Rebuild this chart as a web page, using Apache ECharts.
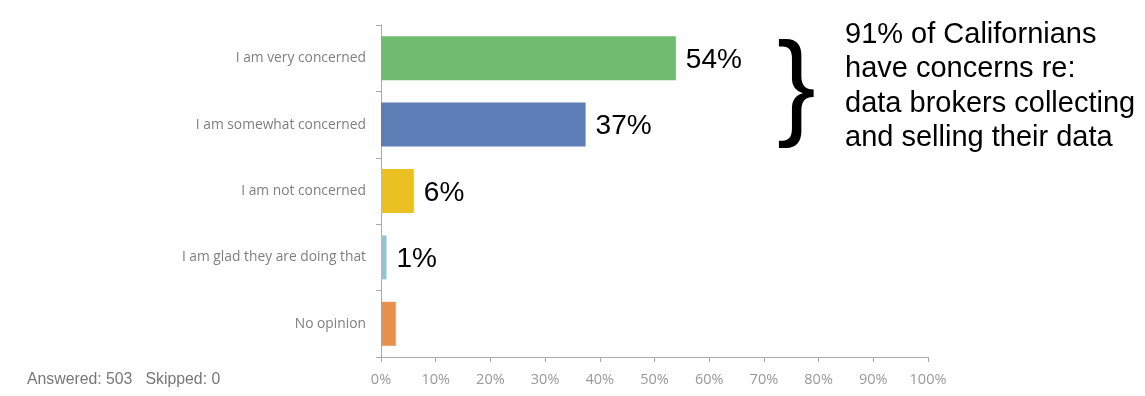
<!DOCTYPE html>
<html><head><meta charset="utf-8">
<script src="https://cdn.jsdelivr.net/npm/echarts@6/dist/echarts.min.js"></script>
<style>html,body{margin:0;padding:0;background:#fff}#c{width:1145px;height:396px}</style>
</head><body><div id="c"></div>
<script>
const categories = ["I am very concerned","I am somewhat concerned","I am not concerned","I am glad they are doing that","No opinion"];
const values = [53.9, 37.4, 6.0, 1.0, 2.7];
const valueLabels = ["54%","37%","6%","1%",""];
const barColors = ["#6fbb6f","#5d7db6","#ebc022","#92c5d0","#e8904d"];
const tickValues = [0,10,20,30,40,50,60,70,80,90,100];
const noteLines = ["91% of Californians","have concerns re:","data brokers collecting","and selling their data"];
const footer = "Answered: 503   Skipped: 0";

const chart = echarts.init(document.getElementById('c'), null, {renderer:'canvas'});
chart.setOption({
  animation:false,
  grid:{left:381, right:217, top:25, bottom:39, containLabel:false},
  xAxis:{type:'value', min:0, max:100, interval:10,
    axisLine:{show:true, lineStyle:{color:'#aaaaaa'}},
    axisTick:{show:true, length:5, lineStyle:{color:'#aaaaaa'}},
    splitLine:{show:false},
    axisLabel:{color:'#999999', fontSize:14.5, fontFamily:'Open Sans', margin:15, formatter:v=>v+'%'}},
  yAxis:{type:'category', inverse:true, data:categories,
    axisLine:{show:true, lineStyle:{color:'#aaaaaa'}},
    axisTick:{show:true, length:5, lineStyle:{color:'#aaaaaa'}},
    axisLabel:{color:'#7f7f7f', fontSize:13.8, fontFamily:'Open Sans', margin:15, lineHeight:22, verticalAlign:'middle', padding:[4,0,0,0]}},
  series:[{type:'bar', barWidth:44,
    data: values.map((v,i)=>({value:v, itemStyle:{color:barColors[i]},
      label:{show: valueLabels[i]!=='', formatter: valueLabels[i]}})),
    label:{position:'right', distance:10, color:'#000', fontSize:28, fontFamily:'Liberation Sans', offset:[0,2]}
  }],
  graphic:[
    {type:'text', left:27, top:372, style:{text:footer, fill:'#777777', font:'15.8px "Liberation Sans"'}},
    {type:'text', left:777, top:34, style:{text:'}', fill:'#000', font:'116px "Liberation Sans"'}},
    {type:'text', left:845, top:18, style:{text:noteLines.join('\n'), fill:'#000', font:'29px "Liberation Sans"', lineHeight:34.3}}
  ]
});
</script></body></html>
